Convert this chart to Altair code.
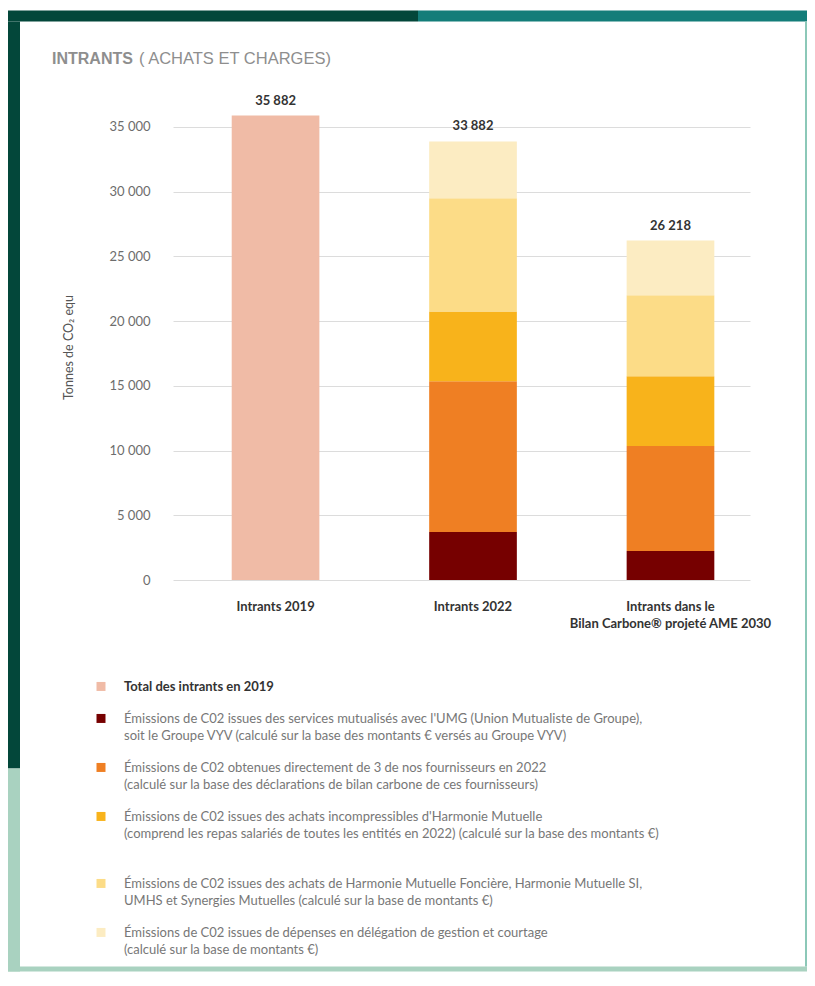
import altair as alt
import pandas as pd

# ---------------- data ----------------
categories = [
    "Intrants 2019",
    "Intrants 2022",
    "Intrants dans le\nBilan Carbone® projeté AME 2030",
]
series = [
    "Total des intrants en 2019",
    "Émissions de C02 issues des services mutualisés avec l'UMG (Union Mutualiste de Groupe),\nsoit le Groupe VYV (calculé sur la base des montants € versés au Groupe VYV)",
    "Émissions de C02 obtenues directement de 3 de nos fournisseurs en 2022\n(calculé sur la base des déclarations de bilan carbone de ces fournisseurs)",
    "Émissions de C02 issues des achats incompressibles d'Harmonie Mutuelle\n(comprend les repas salariés de toutes les entités en 2022)  (calculé sur la base des montants €)",
    "Émissions  de C02 issues des achats de Harmonie Mutuelle Foncière, Harmonie Mutuelle SI,\nUMHS et Synergies Mutuelles (calculé sur la base de montants €)",
    "Émissions  de C02 issues de dépenses en délégation de gestion et courtage\n (calculé sur la base de montants €)",
]
colors = ["#f0bba6", "#760000", "#ef7f23", "#f8b31b", "#fcdc87", "#fcecc2"]

values_2019 = [35882, 0, 0, 0, 0, 0]
values_2022 = [0, 3700, 11650, 5400, 8750, 4382]
values_2030 = [0, 2250, 8100, 5400, 6250, 4218]

y_ticks = [0, 5000, 10000, 15000, 20000, 25000, 30000, 35000]

rows = []
for cat, vals in zip(categories, [values_2019, values_2022, values_2030]):
    for i, (s, v) in enumerate(zip(series, vals)):
        if v > 0:
            rows.append({"category": cat, "series": s, "order": i, "value": v})
df = pd.DataFrame(rows)

FONT = "Lato"
W, H = 577, 466

x_enc = alt.X(
    "category:N",
    sort=categories,
    scale=alt.Scale(paddingInner=0.556, paddingOuter=0.239, align=0.622),
    axis=alt.Axis(
        title=None,
        labelAngle=0,
        labelExpr="split(datum.label, '\\n')",
        labelFont=FONT,
        labelFontSize=13,
        labelFontWeight="bold",
        labelColor="#333333",
        labelPadding=20,
        labelLineHeight=17.5,
        labelLimit=400,
        domain=False,
        ticks=False,
        grid=False,
    ),
)

bars = (
    alt.Chart(df)
    .mark_bar()
    .encode(
        x=x_enc,
        y=alt.Y(
            "value:Q",
            stack="zero",
            scale=alt.Scale(domain=[0, 36000], nice=False),
            axis=alt.Axis(
                values=y_ticks,
                title="Tonnes de CO₂ equ",
                labelExpr="replace(format(datum.value, ','), ',', ' ')",
                labelFont=FONT,
                labelFontSize=13,
                labelColor="#6d6d6d",
                labelPadding=23,
                titleFont=FONT,
                titleFontSize=12.5,
                titleFontWeight="normal",
                titleColor="#555555",
                titlePadding=33,
                domain=False,
                ticks=False,
                gridColor="#dcdcdc",
                gridWidth=1,
            ),
        ),
        color=alt.Color(
            "series:N",
            sort=series,
            scale=alt.Scale(domain=series, range=colors),
            legend=alt.Legend(
                title=None,
                orient="none",
                legendX=-78.5,
                legendY=570,
                direction="vertical",
                padding=0,
                symbolType="M-1,-1.9L1,-1.9L1,0.1L-1,0.1Z",
                symbolSize=81,
                symbolStrokeWidth=0,
                labelExpr="split(datum.label + (indexof(datum.label, 'incompressibles') >= 0 ? '\\n ' : ''), '\\n')",
                labelFont=FONT,
                labelFontSize=13,
                labelColor={"expr": "datum.label == 'Total des intrants en 2019' ? '#333333' : '#777777'"},
                labelFontWeight={"expr": "datum.label == 'Total des intrants en 2019' ? 'bold' : 'normal'"},
                labelBaseline="alphabetic",
                labelLimit=800,
                labelOffset=16.5,
                rowPadding=18,
            ),
        ),
        order=alt.Order("order:Q", sort="ascending"),
    )
)

totals = (
    alt.Chart(df)
    .transform_aggregate(total="sum(value)", groupby=["category"])
    .transform_calculate(label="replace(format(datum.total, ','), ',', ' ')")
    .mark_text(font=FONT, fontSize=13, fontWeight="bold", color="#333333", baseline="bottom", dy=-8)
    .encode(x=x_enc, y=alt.Y("total:Q"), text="label:N")
)

one = alt.Data(values=[{}])


def deco(x, x2, y, y2, color, opacity=1.0):
    return (
        alt.Chart(one)
        .mark_rect(color=color, opacity=opacity)
        .encode(x=alt.value(x), x2=alt.value(x2), y=alt.value(y), y2=alt.value(y2))
    )


# decorative frame (pixel offsets relative to the plot area)
frame = [
    deco(-165, 634, -105.5, 857.5, "#ffffff", 0.0),
    deco(-165, 245, -103.5, -92.5, "#03473a"),
    deco(245, 634, -103.5, -92.5, "#137d79"),
    deco(-165, -153, -92.5, 654.5, "#03473a"),
    deco(-165, -153, 654.5, 857.5, "#a9d2c0"),
    deco(-165, 634, 852.5, 857.5, "#a9d2c0"),
    deco(632, 634, -92.5, 852.5, "#8cc8b8"),
]

title_bold = (
    alt.Chart(one)
    .mark_text(text="INTRANTS", font="Liberation Sans", fontSize=16, fontWeight="bold",
               color="#8e8e8e", align="left", baseline="middle")
    .encode(x=alt.value(-121), y=alt.value(-55.5))
)
title_rest = (
    alt.Chart(one)
    .mark_text(text="( ACHATS ET CHARGES)", font="Liberation Sans", fontSize=16.5,
               color="#8e8e8e", align="left", baseline="middle")
    .encode(x=alt.value(-34), y=alt.value(-55.5))
)

chart = (
    alt.layer(*frame, title_bold, title_rest, bars, totals)
    .properties(width=W, height=H, padding=0, background="white")
    .configure(style={"guide-label": {"lineHeight": 17.5}}, view=alt.ViewConfig(strokeWidth=0, stroke="transparent"))
)

chart.save("out.html", embed_options={"renderer": "svg", "actions": False})
